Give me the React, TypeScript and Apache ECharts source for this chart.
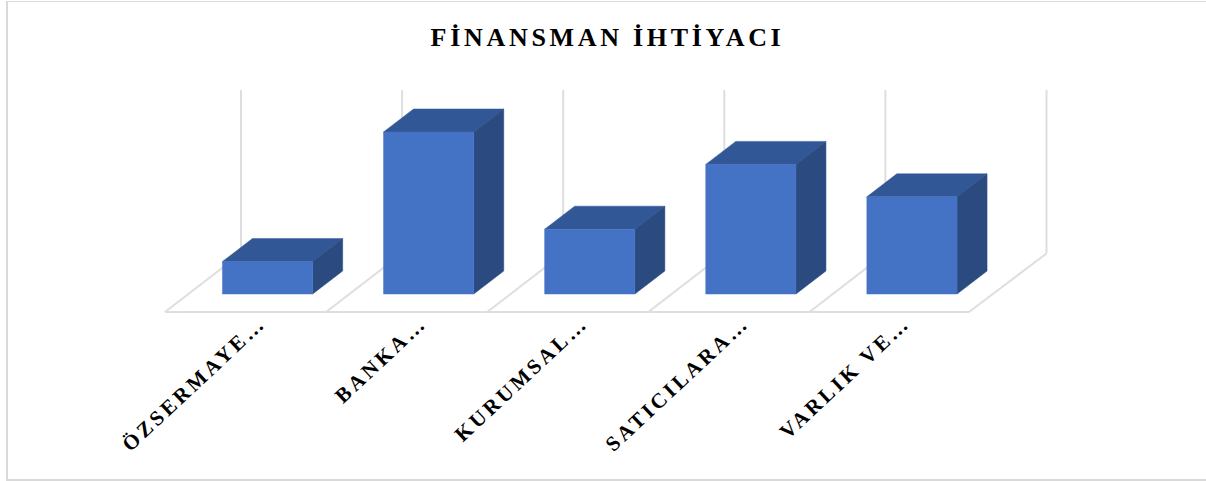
import React, { useEffect, useRef } from "react";
import * as echarts from "echarts";

const categories = ["ÖZSERMAYE…", "BANKA…", "KURUMSAL…", "SATICILARA…", "VARLIK VE…"];
const values = [1, 5, 2, 4, 3];
const titleText = "FİNANSMAN İHTİYACI";

const FONT = '"Liberation Serif", serif';
const FRONT = "#4472C4";
const TOP = "#325796";
const SIDE = "#2A4A80";
const LINE = "#DEDEDE";
const BAR_RATIO = 0.56;
const DEPTH_X = 30;
const DEPTH_Y = 23;
const FLOOR_FRONT = { dx: -22, dy: 18 };
const FLOOR_BACK = { dx: 54, dy: -40.5 };
const WALL_OVERSHOOT = 1.5;

export default function App() {
  const ref = useRef<HTMLDivElement>(null);
  useEffect(() => {
    document.body.style.margin = "0";
    const chart = echarts.init(ref.current!, null, { renderer: "svg" });
    const maxValue = Math.max(...values);
    const lineStyle = { stroke: LINE, lineWidth: 2, fill: "none" };

    const renderFloor = (params: any, api: any) => {
      const i = api.value(0);
      const half = api.size([1, 0])[0] / 2;
      const base = api.coord([i, 0]);
      const topY = api.coord([i, maxValue])[1];
      const edges = [base[0] - half];
      if (i === categories.length - 1) edges.push(base[0] + half);
      const children: any[] = [];
      edges.forEach((x: number, k: number) => {
        const frontX = x + FLOOR_FRONT.dx - (k === 1 ? 1.5 : 0);
        const frontPt = [frontX, base[1] + FLOOR_FRONT.dy];
        const backPt = [x + FLOOR_BACK.dx, base[1] + FLOOR_BACK.dy];
        children.push({ type: "line", shape: { x1: frontPt[0], y1: frontPt[1], x2: backPt[0], y2: backPt[1] }, style: lineStyle });
        children.push({ type: "line", shape: { x1: backPt[0], y1: backPt[1], x2: backPt[0], y2: topY + FLOOR_BACK.dy - WALL_OVERSHOOT }, style: lineStyle });
      });
      children.push({
        type: "line",
        shape: {
          x1: base[0] - half + FLOOR_FRONT.dx,
          y1: base[1] + FLOOR_FRONT.dy,
          x2: base[0] + half + FLOOR_FRONT.dx - (i === categories.length - 1 ? 1.5 : 0),
          y2: base[1] + FLOOR_FRONT.dy,
        },
        style: lineStyle,
      });
      return { type: "group", children };
    };

    const renderBar = (params: any, api: any) => {
      const i = api.value(0);
      const v = api.value(1);
      const half = (api.size([1, 0])[0] * BAR_RATIO) / 2;
      const base = api.coord([i, 0]);
      const head = api.coord([i, v]);
      const l = base[0] - half;
      const r = base[0] + half;
      const b = base[1];
      const t = head[1];
      const poly = (points: number[][], color: string) => ({
        type: "polygon",
        shape: { points },
        style: { fill: color, stroke: color, lineWidth: 0.5 },
      });
      return {
        type: "group",
        children: [
          poly([[l, t], [r, t], [r + DEPTH_X, t - DEPTH_Y], [l + DEPTH_X, t - DEPTH_Y]], TOP),
          poly([[r, t], [r + DEPTH_X, t - DEPTH_Y], [r + DEPTH_X, b - DEPTH_Y], [r, b]], SIDE),
          poly([[l, t], [r, t], [r, b], [l, b]], FRONT),
        ],
      };
    };

    const seriesData = values.map((v, i) => [i, v]);
    chart.setOption({
      animation: false,
      backgroundColor: "#ffffff",
      title: {
        text: titleText,
        left: 602.5,
        top: 19,
        textAlign: "center",
        textStyle: { fontFamily: FONT, fontSize: 26, fontWeight: "bold", color: "#000000" },
      },
      grid: { left: 187, top: 132, width: 805.5, height: 162 },
      xAxis: {
        type: "category",
        data: categories,
        axisLine: { show: false },
        axisTick: { show: false },
        splitLine: { show: false },
        axisLabel: {
          interval: 0,
          rotate: 43,
          margin: 31,
          verticalAlign: "bottom",
          lineHeight: 15,
          fontFamily: FONT,
          fontSize: 21,
          fontWeight: "bold",
          color: "#000000",
        },
      },
      yAxis: { type: "value", min: 0, max: maxValue, show: false },
      series: [
        { type: "custom", name: "grid", data: seriesData, encode: { x: 0, y: 1 }, renderItem: renderFloor, silent: true, clip: false, z: 1 },
        { type: "custom", name: "Finansman", data: seriesData, encode: { x: 0, y: 1 }, renderItem: renderBar, clip: false, z: 2 },
      ],
    });
    return () => chart.dispose();
  }, []);

  return (
    <>
      <style>{`
        #chartbox text { letter-spacing: 3.3px; }
        #chartbox text[style*="26px"] { letter-spacing: 3.7px; }
      `}</style>
      <div
        style={{ position: "absolute", left: 0, top: 0, width: 1206, height: 481, background: "#fff" }}
      >
        <div
          id="chartbox"
          ref={ref}
          style={{ width: 1206, height: 481 }}
        />
        <div
          style={{
            position: "absolute",
            left: 6,
            top: 1,
            width: 1200,
            height: 480,
            boxSizing: "border-box",
            borderLeft: "2px solid #D9D9D9",
            borderTop: "1px solid #D9D9D9",
            borderBottom: "2px solid #D9D9D9",
            pointerEvents: "none",
          }}
        />
      </div>
    </>
  );
}
